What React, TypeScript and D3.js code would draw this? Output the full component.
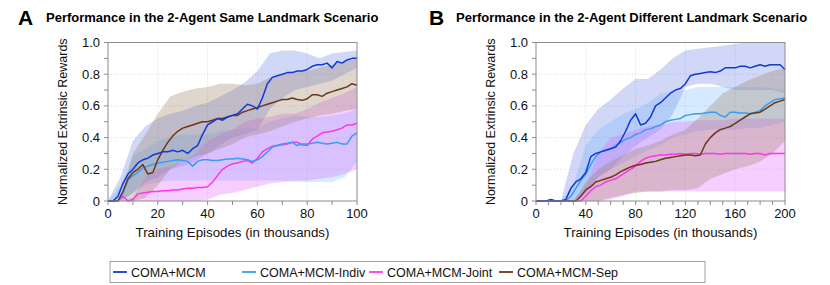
import * as d3 from 'd3';

const seriesNames = ['COMA+MCM', 'COMA+MCM-Indiv', 'COMA+MCM-Joint', 'COMA+MCM-Sep'];
const lineColors = ['#1238d8', '#3a9cf5', '#ff33f2', '#6a3818'];
const bandColors = ['#5a6fe0', '#5fb0ff', '#e060ff', '#9a8068'];
const bandOpacity = [0.28, 0.26, 0.3, 0.32];

// Panel A: mean every 2k episodes, bands every 5k
const stepsA = d3.range(0, 101, 2);
const bandStepsA = d3.range(0, 101, 5);
const meanA = [
  [0, 0, 0.03, 0.11, 0.17, 0.2, 0.24, 0.26, 0.27, 0.29, 0.3, 0.31, 0.31, 0.32, 0.31, 0.32, 0.3, 0.33, 0.35, 0.42, 0.48, 0.5, 0.52, 0.51, 0.53, 0.54, 0.55, 0.58, 0.61, 0.6, 0.58, 0.65, 0.74, 0.78, 0.79, 0.8, 0.81, 0.81, 0.82, 0.82, 0.83, 0.85, 0.86, 0.86, 0.87, 0.84, 0.88, 0.87, 0.89, 0.9, 0.9],
  [0, 0, 0, 0.05, 0.13, 0.16, 0.18, 0.21, 0.22, 0.23, 0.24, 0.245, 0.25, 0.255, 0.26, 0.255, 0.25, 0.22, 0.25, 0.26, 0.26, 0.255, 0.255, 0.26, 0.265, 0.265, 0.27, 0.265, 0.26, 0.25, 0.26, 0.28, 0.31, 0.34, 0.35, 0.36, 0.365, 0.37, 0.35, 0.36, 0.36, 0.365, 0.37, 0.365, 0.36, 0.365, 0.37, 0.36, 0.36, 0.41, 0.43],
  [0, 0, 0, 0.03, 0, 0.01, 0.045, 0.05, 0.055, 0.06, 0.06, 0.065, 0.065, 0.07, 0.07, 0.075, 0.08, 0.08, 0.085, 0.085, 0.09, 0.12, 0.16, 0.2, 0.22, 0.235, 0.24, 0.25, 0.255, 0.24, 0.27, 0.31, 0.33, 0.345, 0.35, 0.355, 0.36, 0.37, 0.37, 0.355, 0.35, 0.39, 0.41, 0.43, 0.435, 0.44, 0.45, 0.46, 0.48, 0.48, 0.49],
  [0, 0, 0, 0.06, 0.14, 0.18, 0.2, 0.23, 0.17, 0.18, 0.26, 0.32, 0.37, 0.41, 0.44, 0.46, 0.47, 0.48, 0.49, 0.5, 0.5, 0.51, 0.52, 0.52, 0.53, 0.54, 0.54, 0.56, 0.57, 0.58, 0.59, 0.6, 0.61, 0.62, 0.63, 0.64, 0.64, 0.65, 0.64, 0.635, 0.645, 0.67, 0.67, 0.66, 0.68, 0.69, 0.7, 0.71, 0.72, 0.74, 0.73],
];
const upperA = [
  [0, 0.15, 0.38, 0.47, 0.52, 0.55, 0.57, 0.6, 0.62, 0.66, 0.7, 0.75, 0.82, 0.93, 0.95, 0.95, 0.93, 0.9, 0.93, 0.94, 0.95],
  [0, 0.1, 0.28, 0.33, 0.38, 0.4, 0.42, 0.42, 0.42, 0.44, 0.45, 0.46, 0.46, 0.5, 0.52, 0.54, 0.53, 0.53, 0.54, 0.55, 0.58],
  [0, 0, 0.02, 0.15, 0.2, 0.22, 0.25, 0.3, 0.38, 0.42, 0.45, 0.5, 0.52, 0.53, 0.55, 0.55, 0.58, 0.62, 0.65, 0.68, 0.72],
  [0, 0, 0.3, 0.42, 0.55, 0.66, 0.69, 0.71, 0.72, 0.74, 0.74, 0.73, 0.74, 0.78, 0.8, 0.82, 0.82, 0.84, 0.86, 0.88, 0.9],
];
const lowerA = [
  [0, 0, 0.05, 0.12, 0.15, 0.2, 0.22, 0.25, 0.3, 0.35, 0.4, 0.42, 0.45, 0.58, 0.65, 0.7, 0.72, 0.74, 0.76, 0.8, 0.84],
  [0, 0, 0.05, 0.1, 0.12, 0.13, 0.13, 0.13, 0.13, 0.13, 0.13, 0.13, 0.13, 0.13, 0.13, 0.12, 0.12, 0.12, 0.12, 0.15, 0.25],
  [0, 0, 0, 0, 0, 0, 0, 0, 0.01, 0.04, 0.05, 0.07, 0.09, 0.11, 0.12, 0.13, 0.13, 0.14, 0.15, 0.17, 0.2],
  [0, 0, 0, 0.02, 0.1, 0.2, 0.25, 0.28, 0.3, 0.33, 0.36, 0.4, 0.42, 0.44, 0.47, 0.5, 0.52, 0.54, 0.55, 0.57, 0.58],
];

// Panel B: mean every 4k episodes, bands every 10k
const stepsB = d3.range(0, 201, 4);
const bandStepsB = d3.range(0, 201, 10);
const meanB = [
  [0, 0, 0, 0.01, 0, 0, 0.01, 0.08, 0.12, 0.14, 0.18, 0.28, 0.3, 0.31, 0.32, 0.33, 0.34, 0.38, 0.44, 0.51, 0.55, 0.48, 0.49, 0.53, 0.6, 0.62, 0.65, 0.68, 0.7, 0.71, 0.74, 0.79, 0.8, 0.805, 0.81, 0.815, 0.81, 0.82, 0.84, 0.84, 0.84, 0.85, 0.85, 0.84, 0.85, 0.86, 0.85, 0.86, 0.86, 0.86, 0.83],
  [0, 0, 0, 0, 0, 0, 0, 0.03, 0.08, 0.13, 0.17, 0.23, 0.28, 0.31, 0.32, 0.33, 0.35, 0.37, 0.39, 0.4, 0.42, 0.43, 0.45, 0.455, 0.47, 0.48, 0.5, 0.51, 0.515, 0.52, 0.54, 0.545, 0.55, 0.55, 0.555, 0.56, 0.56, 0.54, 0.53, 0.56, 0.56, 0.555, 0.555, 0.55, 0.56, 0.57, 0.6, 0.62, 0.64, 0.645, 0.65],
  [0, 0, 0, 0, 0, 0, 0, 0, 0, 0, 0.03, 0.065, 0.09, 0.1, 0.12, 0.13, 0.14, 0.16, 0.18, 0.2, 0.22, 0.25, 0.27, 0.28, 0.285, 0.29, 0.29, 0.295, 0.295, 0.3, 0.295, 0.3, 0.3, 0.295, 0.3, 0.3, 0.3, 0.295, 0.3, 0.3, 0.3, 0.3, 0.3, 0.295, 0.3, 0.3, 0.29, 0.3, 0.3, 0.3, 0.3],
  [0, 0, 0, 0, 0, 0, 0, 0, 0, 0.03, 0.07, 0.09, 0.12, 0.13, 0.14, 0.15, 0.165, 0.185, 0.2, 0.215, 0.225, 0.23, 0.24, 0.245, 0.25, 0.26, 0.27, 0.275, 0.28, 0.285, 0.29, 0.29, 0.285, 0.29, 0.36, 0.4, 0.43, 0.45, 0.46, 0.47, 0.49, 0.51, 0.53, 0.55, 0.555, 0.56, 0.58, 0.6, 0.62, 0.63, 0.64],
];
const upperB = [
  [0, 0, 0, 0.3, 0.48, 0.58, 0.64, 0.71, 0.77, 0.77, 0.83, 0.9, 0.95, 0.96, 0.97, 0.98, 0.99, 1.0, 1.0, 1.0, 1.0],
  [0, 0, 0, 0.1, 0.35, 0.45, 0.5, 0.55, 0.58, 0.62, 0.68, 0.69, 0.7, 0.72, 0.72, 0.72, 0.72, 0.72, 0.72, 0.71, 0.7],
  [0, 0, 0, 0, 0.1, 0.3, 0.4, 0.42, 0.45, 0.47, 0.48, 0.5, 0.5, 0.51, 0.51, 0.51, 0.52, 0.52, 0.52, 0.52, 0.52],
  [0, 0, 0, 0, 0.12, 0.2, 0.25, 0.29, 0.33, 0.35, 0.38, 0.42, 0.45, 0.52, 0.6, 0.68, 0.72, 0.76, 0.79, 0.82, 0.84],
];
const lowerB = [
  [0, 0, 0, 0, 0.05, 0.15, 0.2, 0.28, 0.35, 0.4, 0.45, 0.55, 0.72, 0.74, 0.74, 0.72, 0.7, 0.7, 0.7, 0.7, 0.68],
  [0, 0, 0, 0, 0.05, 0.15, 0.2, 0.24, 0.28, 0.32, 0.35, 0.4, 0.42, 0.44, 0.45, 0.45, 0.45, 0.46, 0.46, 0.48, 0.5],
  [0, 0, 0, 0, 0, 0, 0.01, 0.03, 0.06, 0.06, 0.06, 0.06, 0.06, 0.06, 0.06, 0.06, 0.06, 0.06, 0.06, 0.06, 0.06],
  [0, 0, 0, 0, 0, 0, 0.02, 0.04, 0.05, 0.06, 0.06, 0.07, 0.07, 0.08, 0.14, 0.17, 0.2, 0.22, 0.25, 0.3, 0.38],
];

const yTicks = [0, 0.2, 0.4, 0.6, 0.8, 1.0];
const xTicksA = [0, 20, 40, 60, 80, 100];
const xTicksB = [0, 40, 80, 120, 160, 200];

const FONT = 'Liberation Sans, Arial, Helvetica, sans-serif';
const AXIS = '#8c8c8c';

interface PanelProps {
  letter: string;
  title: string;
  letterX: number;
  titleX: number;
  left: number;
  right: number;
  xMax: number;
  xTicks: number[];
  minorStep: number;
  steps: number[];
  bandSteps: number[];
  mean: number[][];
  upper: number[][];
  lower: number[][];
}

function Panel(p: PanelProps) {
  const top = 42.5;
  const bottom = 201;
  const x = d3.scaleLinear().domain([0, p.xMax]).range([p.left, p.right]);
  const y = d3.scaleLinear().domain([0, 1]).range([bottom, top]);
  const minorX = d3.range(0, p.xMax + 0.001, p.minorStep);
  const minorY = d3.range(0, 1.0001, 0.1);
  const line = d3.line<number>()
    .x((_, i) => x(p.steps[i]))
    .y(d => y(d));
  const bandOrder = [0, 1, 2, 3];
  const lineOrder = [2, 1, 3, 0];
  const fmt = (v: number) => (v === 0 ? '0' : v.toFixed(1));
  const labelX = p.left - 41;
  return (
    <g>
      <text x={p.letterX} y={25} fontSize={21} fontWeight="bold" fontFamily={FONT}>{p.letter}</text>
      <text x={p.titleX} y={22} fontSize={13} fontWeight="bold" fontFamily={FONT}>{p.title}</text>
      {/* grid */}
      {p.xTicks.slice(1, -1).map(t => (
        <line key={'gx' + t} x1={x(t)} x2={x(t)} y1={top} y2={bottom} stroke="#cfcfcf" strokeWidth={0.8} strokeDasharray="1,2" />
      ))}
      {yTicks.slice(1, -1).map(t => (
        <line key={'gy' + t} x1={p.left} x2={p.right} y1={y(t)} y2={y(t)} stroke="#cfcfcf" strokeWidth={0.8} strokeDasharray="1,2" />
      ))}
      {/* bands */}
      {bandOrder.map(k => {
        const a = d3.area<number>()
          .x((_, i) => x(p.bandSteps[i]))
          .y0((_, i) => y(p.lower[k][i]))
          .y1(d => y(d));
        return <path key={'b' + k} d={a(p.upper[k]) ?? ''} fill={bandColors[k]} fillOpacity={bandOpacity[k]} stroke="none" />;
      })}
      {/* lines */}
      {lineOrder.map(k => (
        <path key={'l' + k} d={line(p.mean[k]) ?? ''} fill="none" stroke={lineColors[k]} strokeWidth={1.5} strokeLinejoin="round" />
      ))}
      {/* frame */}
      <rect x={p.left} y={top} width={p.right - p.left} height={bottom - top} fill="none" stroke={AXIS} strokeWidth={1} />
      {/* ticks */}
      {minorX.map(t => (
        <line key={'tx' + t} x1={x(t)} x2={x(t)} y1={bottom} y2={bottom + 4} stroke={AXIS} strokeWidth={1} />
      ))}
      {minorY.map(t => (
        <line key={'ty' + t} x1={p.left - 4} x2={p.left} y1={y(t)} y2={y(t)} stroke={AXIS} strokeWidth={1} />
      ))}
      {p.xTicks.map(t => (
        <text key={'lx' + t} x={x(t)} y={bottom + 17} fontSize={13} textAnchor="middle" fontFamily={FONT} fill="#111">{t}</text>
      ))}
      {yTicks.map(t => (
        <text key={'ly' + t} x={p.left - 8} y={y(t) + 4.5} fontSize={13} textAnchor="end" fontFamily={FONT} fill="#111">{fmt(t)}</text>
      ))}
      <text x={(p.left + p.right) / 2} y={237} fontSize={13.3} textAnchor="middle" fontFamily={FONT} fill="#111">Training Episodes (in thousands)</text>
      <text transform={`translate(${labelX},${(top + bottom) / 2}) rotate(-90)`} fontSize={12.5} textAnchor="middle" fontFamily={FONT} fill="#111">Normalized Extrinsic Rewards</text>
    </g>
  );
}

export default function App() {
  const legendX = [113, 242, 369, 499];
  return (
    <svg width={830} height={285} style={{ position: 'absolute', left: 0, top: 0, background: '#fff' }}>
      <Panel letter="A" title="Performance in the 2-Agent Same Landmark Scenario" letterX={18} titleX={46} left={108} right={357} xMax={100} xTicks={xTicksA} minorStep={10}
        steps={stepsA} bandSteps={bandStepsA} mean={meanA} upper={upperA} lower={lowerA} />
      <Panel letter="B" title="Performance in the 2-Agent Different Landmark Scenario" letterX={429} titleX={456} left={536} right={785} xMax={200} xTicks={xTicksB} minorStep={10}
        steps={stepsB} bandSteps={bandStepsB} mean={meanB} upper={upperB} lower={lowerB} />
      <rect x={110} y={261.5} width={595} height={21} fill="#fff" stroke="#a0a0a0" strokeWidth={1} />
      {seriesNames.map((s, i) => (
        <g key={s}>
          <line x1={legendX[i]} x2={legendX[i] + 14} y1={272} y2={272} stroke={lineColors[i]} strokeWidth={1.8} />
          <text x={legendX[i] + 18} y={276.5} fontSize={12.5} fontFamily={FONT} fill="#111">{s}</text>
        </g>
      ))}
    </svg>
  );
}
